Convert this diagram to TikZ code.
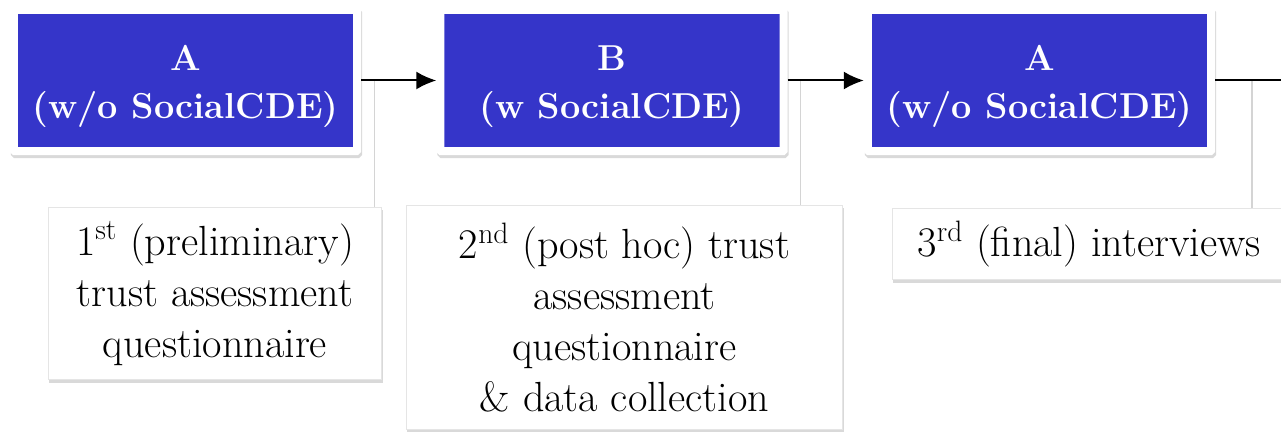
\documentclass[tikz,border=0pt]{standalone}
\usetikzlibrary{positioning, arrows.meta}
\definecolor{phaseblue}{RGB}{53,53,201}
\definecolor{tapgray}{RGB}{212,212,212}
\newcommand{\phasestrut}{\rule{0pt}{21pt}}
\tikzset{
    x=0.02cm, y=-0.02cm, % one unit is one pixel of the sketch
    >={Latex[length=0.4cm,width=0.36cm]}, % filled arrow heads
    shadowed/.style={preaction={draw=black!15, fill=black!15, transform canvas={xshift=0.02cm, yshift=-0.06cm}}}, % flat drop shadow
    phase/.style={shadowed, rectangle, fill=phaseblue, draw=white, line width=0.16cm, rounded corners=0.02cm,
        text=white, font=\bfseries\fontsize{20.5}{27}\selectfont, align=center,
        minimum width=6.87cm, minimum height=2.83cm, inner sep=0pt}, % the blue study phases
    note/.style={shadowed, rectangle, fill=white, draw=black!10, line width=0.02cm,
        font=\fontsize{24}{29}\selectfont, align=center, inner sep=0pt}, % the instruments below
    flow/.style={->, line width=0.04cm},
    tap/.style={draw=tapgray, line width=0.03cm},
}
\begin{document}
\begin{tikzpicture}
    \useasboundingbox (0,0) rectangle (1281,432);

    \node[phase] (a1) at (185.5,80.5) {\phasestrut A\\(w/o SocialCDE)};
    \node[phase] (b) at (612,80.5) {\phasestrut B\\(w SocialCDE)};
    \node[phase] (a2) at (1039.5,80.5) {\phasestrut A\\(w/o SocialCDE)};
    \coordinate (out) at (1295,80.5);

    \node[note, minimum width=6.68cm, minimum height=3.46cm] (n1) at (215,293.5)
        {1\textsuperscript{st} (preliminary)\\trust assessment\\questionnaire};
    \node[note, minimum width=8.74cm, minimum height=4.5cm] (n2) at (624.5,317.5)
        {2\textsuperscript{nd} (post hoc) trust\\assessment\\questionnaire\\\& data collection};
    \node[note, minimum width=7.88cm, minimum height=1.44cm] (n3) at (1089,244)
        {3\textsuperscript{rd} (final) interviews};

    % points where the instruments hang off the flow
    \path (a1.east) -- coordinate[pos=0.18] (t1) (b.west);
    \path (b.east) -- coordinate[pos=0.17] (t2) (a2.west);
    \path (a2.east) -- coordinate[pos=0.46] (t3) (out);

    \draw[tap] (t1) -- (t1 |- n1.north);
    \draw[tap] (t2) -- (t2 |- n2.north);
    \draw[tap] (t3) -- (t3 |- n3.north);

    \draw[flow] (a1) -- (b);
    \draw[flow] (b) -- (a2);
    \draw[line width=0.04cm] (a2) -- (out);
\end{tikzpicture}
\end{document}
